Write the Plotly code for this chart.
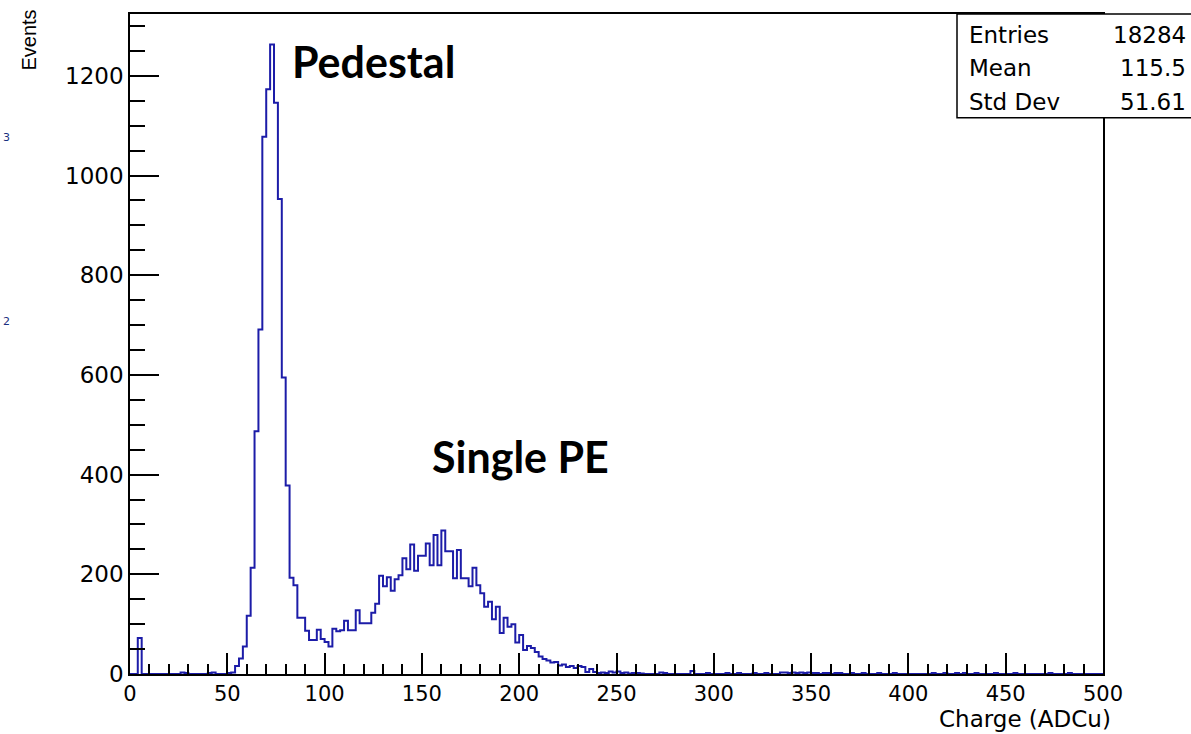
import plotly.graph_objects as go

# Charge spectrum, 2 ADCu bins from 0 to 500
bin_width = 2
counts = [
    0, 0, 72, 0, 0, 0, 0, 0, 0, 0,
    0, 0, 0, 3, 2, 0, 0, 0, 0, 0,
    2, 3, 0, 0, 0, 2, 3, 16, 31, 55,
    117, 213, 487, 691, 1078, 1173, 1263, 1146, 953, 595,
    378, 193, 178, 113, 113, 87, 68, 68, 89, 70,
    64, 55, 91, 86, 88, 107, 88, 88, 128, 102,
    102, 102, 123, 141, 197, 176, 194, 167, 190, 198,
    232, 210, 260, 207, 237, 237, 262, 218, 279, 218,
    288, 246, 246, 192, 249, 192, 192, 176, 213, 178,
    162, 135, 145, 110, 135, 82, 113, 95, 100, 63,
    78, 48, 56, 52, 44, 35, 30, 27, 23, 24,
    17, 19, 14, 16, 12, 16, 14, 4, 10, 4,
    2, 3, 2, 5, 3, 5, 2, 3, 1, 2,
    2, 1, 0, 0, 0, 0, 3, 2, 0, 0,
    0, 0, 0, 0, 6, 0, 0, 0, 2, 0,
    0, 0, 0, 2, 0, 0, 2, 0, 0, 0,
    2, 0, 0, 2, 0, 0, 0, 3, 3, 2,
    3, 2, 3, 2, 3, 2, 2, 0, 2, 2,
    0, 2, 2, 0, 0, 2, 0, 0, 2, 0,
    0, 0, 2, 0, 0, 0, 2, 0, 0, 0,
    0, 0, 0, 0, 0, 0, 2, 0, 0, 2,
    0, 0, 2, 0, 2, 0, 0, 2, 0, 0,
    0, 0, 2, 0, 0, 0, 0, 2, 0, 0,
    0, 0, 0, 0, 0, 0, 2, 0, 0, 0,
    0, 2, 0, 0, 0, 0, 0, 0, 0, 0,
]
edges = [i * bin_width for i in range(len(counts) + 1)]

stat_labels = ["Entries", "Mean", "Std Dev"]
stat_values = ["18284", "115.5", "51.61"]
x_ticks = list(range(0, 501, 50))
y_ticks = list(range(0, 1201, 200))
x_title = "Charge (ADCu)"
y_title = "Events"
peak_labels = ["Pedestal", "Single PE"]
# small exponent marks at the far left margin
edge_fragments = ["3", "2"]

W, H = 1191, 734
L, R, T, B = 130, 1103, 12, 674


def px(x):
    return (x - L) / (R - L)


def py(y):
    return (B - y) / (B - T)


ROOT_FONT = "DejaVu Sans"
LINE = "#1c1ca8"

fig = go.Figure()
fig.add_trace(go.Scatter(
    x=edges,
    y=counts + [counts[-1]],
    mode="lines",
    line=dict(shape="hv", color=LINE, width=2),
    hoverinfo="skip",
    showlegend=False,
))

axis_common = dict(
    ticks="inside", tickwidth=1.5, tickcolor="black",
    showline=True, linecolor="black", linewidth=1.5, mirror=True,
    showgrid=False, zeroline=False,
)

fig.update_layout(
    width=W, height=H,
    margin=dict(l=L, r=W - R, t=T, b=H - B, pad=0),
    paper_bgcolor="white", plot_bgcolor="white",
    xaxis=dict(
        range=[0, 500], tickvals=x_ticks, ticklen=21,
        tickfont=dict(family=ROOT_FONT, size=21, color="black"),
        minor=dict(dtick=10, tick0=0, ticks="inside", ticklen=10,
                   tickwidth=1.5, tickcolor="black", showgrid=False),
        **axis_common,
    ),
    yaxis=dict(
        range=[0, 1324], tickvals=y_ticks, ticklen=29,
        tickfont=dict(family=ROOT_FONT, size=23, color="black"),
        minor=dict(dtick=50, tick0=0, ticks="inside", ticklen=15,
                   tickwidth=1.5, tickcolor="black", showgrid=False),
        **axis_common,
    ),
)

# statistics box
fig.add_shape(type="rect", xref="paper", yref="paper",
              x0=px(957), x1=px(1196), y0=py(116), y1=py(12),
              line=dict(color="black", width=1.5), fillcolor="white",
              layer="above")

annotations = []
for i, (lab, val) in enumerate(zip(stat_labels, stat_values)):
    yy = py(33 + 33.5 * i)
    annotations.append(dict(text=lab, x=px(967), y=yy, xanchor="left", yanchor="middle"))
    annotations.append(dict(text=val, x=px(1188), y=yy, xanchor="right", yanchor="middle"))
for a in annotations:
    a.update(xref="paper", yref="paper", showarrow=False,
             font=dict(family=ROOT_FONT, size=23, color="black"))

# axis titles
annotations.append(dict(text=x_title, x=px(1113), y=py(734), xref="paper", yref="paper",
                        xanchor="right", yanchor="bottom", showarrow=False,
                        font=dict(family=ROOT_FONT, size=23, color="black")))
annotations.append(dict(text=y_title, x=px(29), y=py(6), xref="paper", yref="paper",
                        xanchor="center", yanchor="top", textangle=-90, showarrow=False,
                        font=dict(family="Liberation Sans", size=20, color="black")))

# peak labels
annotations.append(dict(text="<b>%s</b>" % peak_labels[0], x=px(290), y=py(60),
                        xref="paper", yref="paper", xanchor="left", yanchor="middle",
                        showarrow=False, font=dict(family="Lato", size=43, color="black")))
annotations.append(dict(text="<b>%s</b>" % peak_labels[1], x=px(430), y=py(456),
                        xref="paper", yref="paper", xanchor="left", yanchor="middle",
                        showarrow=False, font=dict(family="Lato", size=43, color="black")))

# small marks at the far left margin
for frag, yv in zip(edge_fragments, [136, 320]):
    annotations.append(dict(text=frag, x=px(1), y=py(yv), xref="paper", yref="paper",
                            xanchor="left", yanchor="middle", showarrow=False,
                            font=dict(family=ROOT_FONT, size=11, color="#1a2f80")))

fig.update_layout(annotations=annotations)

fig.write_html("out.html")
